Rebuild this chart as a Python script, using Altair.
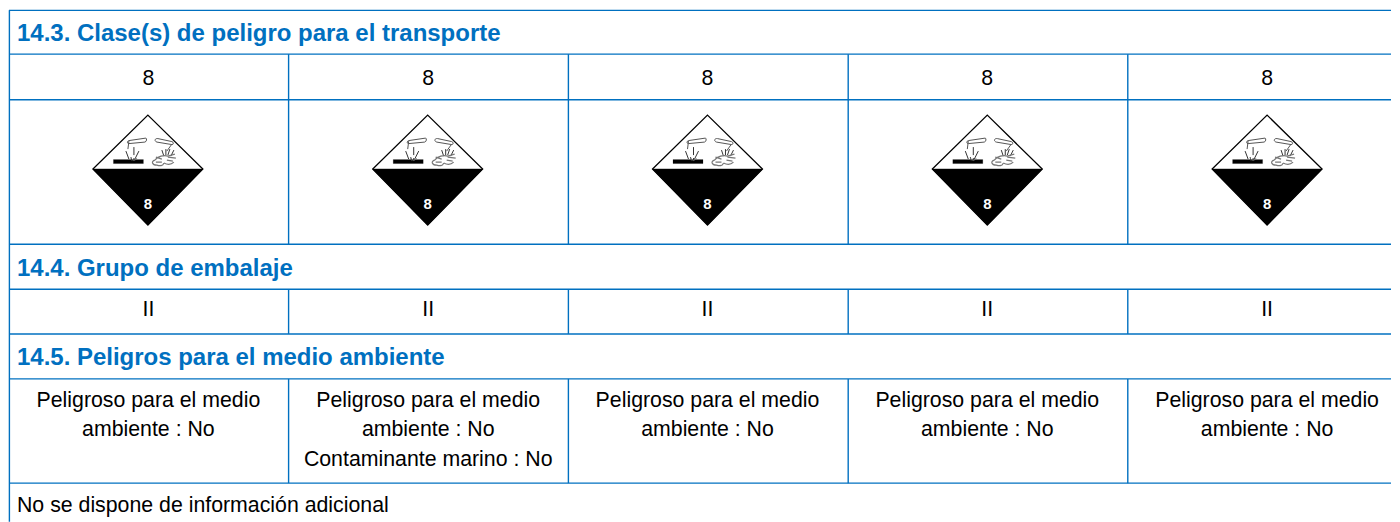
import altair as alt
import pandas as pd

# Table geometry and content (reference pixels)
h_lines = [10.2, 54, 99.6, 244.3, 289.3, 334, 379, 483.3]
v_cols = [288.8, 568.8, 848.8, 1128.6]
v_rows = [(54, 99.6), (99.6, 244.3), (289.3, 334), (379, 483.3)]
col_centers = [148.5, 428.5, 708, 988, 1268]
icon_x = [148, 428, 708, 988, 1268]
icon_y = 169

headers = ["14.3. Clase(s) de peligro para el transporte", "14.4. Grupo de embalaje", "14.5. Peligros para el medio ambiente"]
header_y = [33.5, 268.8, 358.5]
class_row = ["8", "8", "8", "8", "8"]
group_row = ["II", "II", "II", "II", "II"]
env_line1 = ["Peligroso para el medio"] * 5
env_line2 = ["ambiente : No"] * 5
marine = ["", "Contaminante marino : No", "", "", ""]
footer = "No se dispone de información adicional"

BLUE = "#0070c0"
FONT = "Liberation Sans"
W, H = 1384, 514
xs = alt.Scale(domain=[8, 1392], range=[0, W], nice=False, zero=False)
ys = alt.Scale(domain=[8, 522], range=[0, H], nice=False, zero=False)
X = lambda f: alt.X(f, scale=xs, axis=None)
Y = lambda f: alt.Y(f, scale=ys, axis=None)

hl = pd.DataFrame({"y": h_lines, "x": 9.0, "x2": 1392.0})
vl = pd.DataFrame([{"x": x, "y": a, "y2": b} for a, b in v_rows for x in v_cols] + [{"x": 9.4, "y": 10.0, "y2": 522.0}])

rules_h = alt.Chart(hl).mark_rule(color=BLUE, strokeWidth=1.4).encode(x=X("x:Q"), x2="x2:Q", y=Y("y:Q"))
rules_v = alt.Chart(vl).mark_rule(color=BLUE, strokeWidth=1.4).encode(x=X("x:Q"), y=Y("y:Q"), y2="y2:Q")

def text_layer(rows, size, color="#000000", bold=False, align="center"):
    return alt.Chart(pd.DataFrame(rows)).mark_text(
        font=FONT, fontSize=size, color=color, align=align, baseline="middle",
        fontWeight="bold" if bold else "normal"
    ).encode(x=X("x:Q"), y=Y("y:Q"), text="t:N")

hdr = text_layer([{"x": 17, "y": y, "t": t} for y, t in zip(header_y, headers)], 24, BLUE, True, "left")
cells = []
for i, c in enumerate(col_centers):
    cells += [{"x": c, "y": 78.5, "t": class_row[i]}, {"x": c, "y": 310, "t": group_row[i]},
              {"x": c, "y": 401.5, "t": env_line1[i]}, {"x": c, "y": 430.5, "t": env_line2[i]}]
    if marine[i]:
        cells.append({"x": c, "y": 460.5, "t": marine[i]})
body = text_layer(cells, 21.33)
foot = text_layer([{"x": 17, "y": 506.5, "t": footer}], 21.33, align="left")

# Pictogram outlines: custom symbol paths in pixels around the icon centre (size=4 => scale 1)
DIAMOND = "M0,-54 L55,0 L0,56 L-55,0 Z"
LOWER = "M-55,0 L55,0 L0,56 Z"
BAR = "M-34.5,-9.5 L-4.5,-9.5 L-4.5,-5.5 L-34.5,-5.5 Z"
TUBES = ("M-2,-31 L-19,-28.5 C-21,-28 -21,-25.5 -19,-25.5 L-3,-27 C-1,-27.5 -1,-30.5 -2,-31 Z "
         "M-19,-28 L-20,-20 M10,-30.5 L24,-27.5 C26,-27 26,-24.5 24,-24.5 L9,-27 C6,-28 7,-31 10,-30.5 Z "
         "M24,-25 L19,-18")
DROPS = ("M-14,-22 L-14,-14 M-17,-12 L-16,-8 M-22,-18 L-19,-10 M-9,-18 L-13,-10 M-14,-11 L-14,-8 "
         "M18,-20 L18,-14 M22,-20 L20,-14 M26,-19 L23,-13 M14,-19 L16,-13")
HAND = ("M7,-9 C10,-13 16,-14 20,-13 L27,-15 M20,-12 L28,-11 M19,-9 L25,-8 M16,-6 C20,-4 24,-5 26,-7 "
        "M7,-9 C3,-8 4,-4 9,-4 C12,-3 15,-3 16,-6 M8,-12 L14,-10 M8,-7 L14,-7")
ONE_SPLASH = "M-17,-11 C-15,-8 -13,-8 -11,-11"

icons = pd.DataFrame({"x": icon_x, "y": [icon_y] * 5})
base = alt.Chart(icons).encode(x=X("x:Q"), y=Y("y:Q"))
def sym(path, **kw):
    return base.mark_point(shape=path, size=4, opacity=1, **kw)

diamond = sym(DIAMOND, fill="#ffffff", stroke="#000000", strokeWidth=1.3, filled=False)
lower = sym(LOWER, fill="#000000", stroke="#000000", strokeWidth=0.5, filled=True)
bar = sym(BAR, fill="#000000", stroke="#000000", strokeWidth=0.2, filled=True)
tubes = sym(TUBES, stroke="#555555", strokeWidth=1.0, filled=False)
drops = sym(DROPS, stroke="#333333", strokeWidth=1.0, filled=False)
hand = sym(HAND, stroke="#777777", strokeWidth=1.2, filled=False)
splash = sym(ONE_SPLASH, stroke="#777777", strokeWidth=0.8, filled=False)
eight = alt.Chart(pd.DataFrame({"x": icon_x, "y": [204] * 5, "t": ["8"] * 5})).mark_text(
    font=FONT, fontSize=15, fontWeight="bold", color="#ffffff", baseline="middle", align="center"
).encode(x=X("x:Q"), y=Y("y:Q"), text="t:N")

chart = alt.layer(diamond, lower, bar, tubes, drops, hand, splash, eight, rules_h, rules_v, hdr, body, foot).properties(
    width=W, height=H, padding=0, background="#ffffff"
).configure_view(stroke=None)
chart.save("out.html", embed_options={"renderer": "svg", "actions": False})
